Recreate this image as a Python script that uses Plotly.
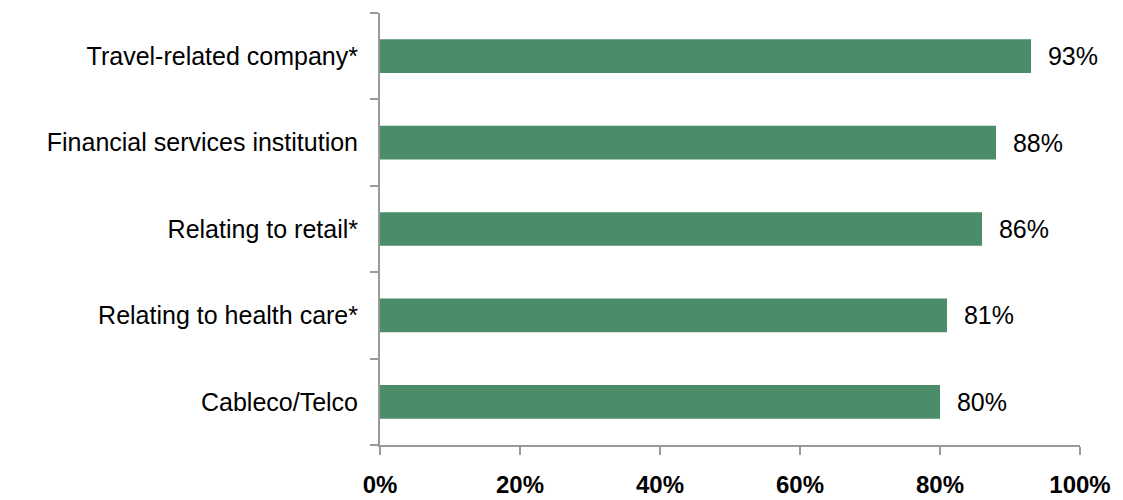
import plotly.graph_objects as go

# Share of respondents by organisation type
categories = [
    "Travel-related company*",
    "Financial services institution",
    "Relating to retail*",
    "Relating to health care*",
    "Cableco/Telco",
]
values = [93, 88, 86, 81, 80]
x_ticks = [0, 20, 40, 60, 80, 100]

bar_color = "#4B8D69"
axis_color = "#9A9A9A"

fig = go.Figure(
    go.Bar(
        x=values,
        y=categories,
        orientation="h",
        marker=dict(color=bar_color, line=dict(width=0)),
        width=0.39,
        text=[f"\u00a0\u00a0{v}%" for v in values],
        textposition="outside",
        textfont=dict(family="Liberation Sans, Arial", size=25, color="#000000"),
        cliponaxis=False,
        hoverinfo="skip",
    )
)

fig.update_layout(
    width=1123,
    height=500,
    margin=dict(l=380, r=43, t=13, b=55),
    paper_bgcolor="white",
    plot_bgcolor="white",
    showlegend=False,
    font=dict(family="Liberation Sans, Arial", color="#000000"),
)

fig.update_xaxes(
    range=[0, 100],
    tickvals=x_ticks,
    ticktext=[f"{t}%" for t in x_ticks],
    tickfont=dict(size=24, weight="bold"),
    showgrid=False,
    zeroline=False,
    showline=True,
    linecolor=axis_color,
    linewidth=2,
    ticks="outside",
    ticklen=8,
    tickwidth=2,
    tickcolor=axis_color,
    ticklabelstandoff=9,
    automargin=False,
)

fig.update_yaxes(
    type="category",
    categoryorder="array",
    categoryarray=categories[::-1],
    tickfont=dict(size=25),
    showgrid=False,
    zeroline=False,
    showline=True,
    linecolor=axis_color,
    linewidth=2,
    ticks="outside",
    tickson="boundaries",
    ticklen=8,
    tickwidth=2,
    tickcolor=axis_color,
    ticklabelstandoff=15,
    automargin=False,
)

fig.write_html("out.html")
